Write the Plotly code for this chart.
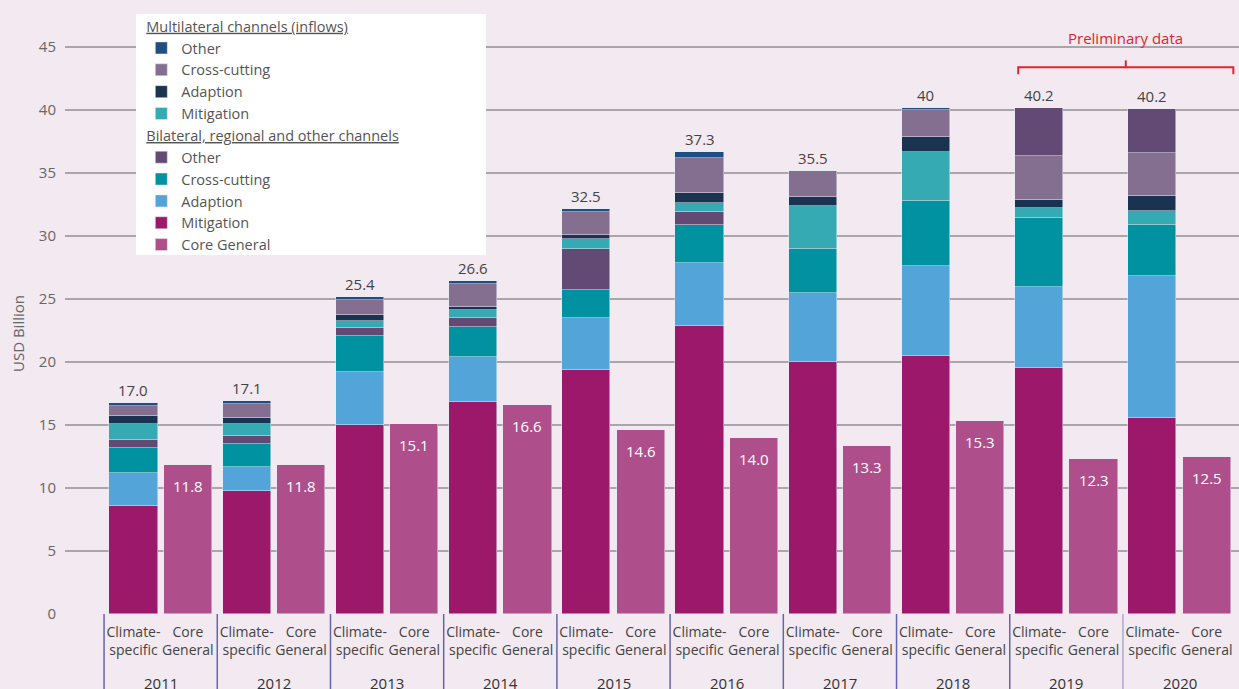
import plotly.graph_objects as go

# data (USD billion)
years = [2011, 2012, 2013, 2014, 2015, 2016, 2017, 2018, 2019, 2020]
preliminary = [False, False, False, False, False, False, False, False, True, True]

mit_bil = [8.6, 9.8, 15.0, 16.8, 19.4, 22.9, 20.0, 20.5, 19.5, 15.6]
adapt_bil = [2.6, 1.9, 4.2, 3.6, 4.1, 5.0, 5.5, 7.1, 6.5, 11.2]
cc_bil = [2.0, 1.8, 2.9, 2.4, 2.2, 3.0, 3.5, 5.2, 5.4, 4.1]
other_bil = [0.6, 0.6, 0.6, 0.7, 3.3, 1.0, 0.0, 0.0, 3.8, 3.5]
mit_multi = [1.3, 1.0, 0.6, 0.6, 0.8, 0.7, 3.4, 3.9, 0.8, 1.1]
adapt_multi = [0.6, 0.5, 0.4, 0.3, 0.3, 0.8, 0.7, 1.2, 0.7, 1.2]
cc_multi = [0.8, 1.1, 1.2, 1.8, 1.8, 2.8, 2.1, 2.1, 3.5, 3.4]
other_multi = [0.25, 0.25, 0.3, 0.2, 0.25, 0.5, 0.0, 0.2, 0.0, 0.0]
core_general = [11.8, 11.8, 15.1, 16.6, 14.6, 14.0, 13.3, 15.3, 12.3, 12.5]
total_labels = ["17.0", "17.1", "25.4", "26.6", "32.5", "37.3", "35.5", "40", "40.2", "40.2"]

bar_labels = ["Climate-<br>specific", "Core<br>General"]

# colours
c_other_multi = "#1f4f82"
c_cc_multi = "#846f90"
c_adapt_multi = "#1a3351"
c_mit_multi = "#35aab3"
c_other_bil = "#634a74"
c_cc_bil = "#0092a0"
c_adapt_bil = "#52a4d9"
c_mit_bil = "#9b186b"
c_core = "#ae4f8c"
bg = "#f2e9f1"

FONT = "Open Sans"

# bar slots: climate-specific and core general per year
x_clim = [2 * i + 0.02 for i in range(len(years))]
x_core = [2 * i + 0.98 for i in range(len(years))]
W = 0.85

MULTI = "<u>Multilateral channels (inflows)</u>"
BIL = "<u>Bilateral, regional and other channels</u>"

fig = go.Figure()

fig.add_trace(go.Bar(x=x_core, y=core_general, width=W, name="Core General",
                     marker_color=c_core, legendgroup="bil", legendgrouptitle_text=BIL,
                     legendrank=9))

other_bil_main = [0 if p else v for v, p in zip(other_bil, preliminary)]
other_bil_top = [v if p else 0 for v, p in zip(other_bil, preliminary)]

# (name, values, colour, group, group title, show in legend, legend rank)
stack = [
    ("Mitigation", mit_bil, c_mit_bil, "bil", BIL, True, 8),
    ("Adaption", adapt_bil, c_adapt_bil, "bil", BIL, True, 7),
    ("Cross-cutting", cc_bil, c_cc_bil, "bil", BIL, True, 6),
    ("Other", other_bil_main, c_other_bil, "bil", BIL, True, 5),
    ("Mitigation", mit_multi, c_mit_multi, "multi", MULTI, True, 4),
    ("Adaption", adapt_multi, c_adapt_multi, "multi", MULTI, True, 3),
    ("Cross-cutting", cc_multi, c_cc_multi, "multi", MULTI, True, 2),
    ("Other", other_multi, c_other_multi, "multi", MULTI, True, 1),
    ("Other", other_bil_top, c_other_bil, "bil", BIL, False, 10),
]
for name, vals, col, grp, gtitle, show, rank in stack:
    fig.add_trace(go.Bar(x=x_clim, y=vals, width=W, name=name, marker_color=col,
                         legendgroup=grp, legendgrouptitle_text=gtitle,
                         showlegend=show, legendrank=rank))

tops = [sum(s[1][i] for s in stack) for i in range(len(years))]

shapes = []
# white legend box
shapes.append(dict(type="rect", xref="paper", yref="paper", x0=0.0605, x1=0.3586,
                   y0=0.6064, y1=1.0135, fillcolor="white", line_width=0, layer="above"))
# group dividers below the axis
for i in range(len(years)):
    col = "#b0a8d0" if i == len(years) - 1 else "#6465a8"
    shapes.append(dict(type="line", xref="x", yref="paper", x0=2 * i - 0.5, x1=2 * i - 0.5,
                       y0=0, y1=-0.13, line=dict(color=col, width=1.5)))
# preliminary data bracket
shapes.append(dict(type="path", xref="x", yref="y",
                   path="M15.65,42.85 L15.65,43.4 L19.45,43.4 L19.45,42.85",
                   line=dict(color="#e3242b", width=2)))
shapes.append(dict(type="line", xref="x", yref="y", x0=17.55, x1=17.55, y0=43.4, y1=43.95,
                   line=dict(color="#e3242b", width=2)))

annotations = []
for i, yr in enumerate(years):
    annotations.append(dict(x=2 * i + 0.5, y=-0.1166, xref="x", yref="paper", text=str(yr),
                            showarrow=False, yanchor="middle",
                            font=dict(size=15, color="#333333", family=FONT)))
    # total above the climate-specific stack
    annotations.append(dict(x=x_clim[i], y=tops[i], xref="x", yref="y", text=total_labels[i],
                            showarrow=False, yanchor="middle", yshift=13,
                            font=dict(size=15, color="#444444", family=FONT)))
    # core general value inside its bar
    annotations.append(dict(x=x_core[i], y=core_general[i], xref="x", yref="y",
                            text=f"{core_general[i]:.1f}", showarrow=False,
                            yanchor="middle", yshift=-21,
                            font=dict(size=15, color="white", family=FONT)))
annotations.append(dict(x=17.55, y=45.7, xref="x", yref="y", text="Preliminary data",
                        showarrow=False, font=dict(size=15, color="#e3242b", family=FONT)))
annotations.append(dict(x=-0.04, y=0.473, xref="paper", yref="paper", text="USD Billion",
                        textangle=-90, showarrow=False, xanchor="center", yanchor="middle",
                        font=dict(size=15, color="#666666", family=FONT)))

fig.update_layout(
    width=1239, height=689,
    barmode="stack",
    bargap=0,
    paper_bgcolor=bg, plot_bgcolor=bg,
    margin=dict(l=65, r=0, t=22, b=75),
    font=dict(family=FONT, size=15, color="#555555"),
    xaxis=dict(range=[-1.19, 19.55], tickvals=x_clim + x_core,
               ticktext=[bar_labels[0]] * len(years) + [bar_labels[1]] * len(years),
               showgrid=False, zeroline=False, ticks="", ticklabelstandoff=8,
               tickfont=dict(size=14, color="#444444", family=FONT)),
    yaxis=dict(range=[0, 47], dtick=5, showgrid=True, gridcolor="#aaa5ab", gridwidth=1.5,
               zeroline=False, ticks="", ticklabelstandoff=8,
               tickfont=dict(size=15, color="#666666", family=FONT)),
    legend=dict(x=0.065, y=1.02, xanchor="left", yanchor="top",
                bgcolor="rgba(0,0,0,0)", traceorder="grouped",
                tracegroupgap=0, font=dict(size=14.5, color="#555555", family=FONT),
                grouptitlefont=dict(size=14.5, color="#555555", family=FONT)),
    shapes=shapes,
    annotations=annotations,
)

fig.write_html("out.html", config={"displayModeBar": False},
               post_script="document.body.style.margin='0';document.body.style.overflow='hidden';")
